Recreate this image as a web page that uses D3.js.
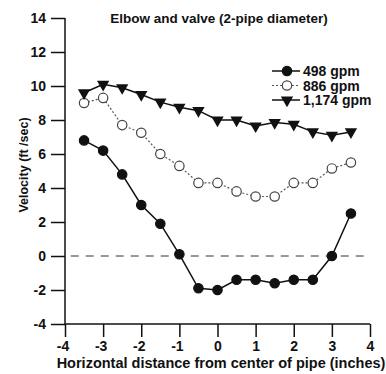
<!DOCTYPE html>
<html>
<head>
<meta charset="utf-8">
<script src="https://cdn.jsdelivr.net/npm/d3@7"></script>
<style>
  body { margin: 0; background: #fff; }
  svg text { font-family: "Liberation Sans", Arial, sans-serif; font-weight: bold; fill: #111; }
</style>
</head>
<body>
<div id="chart"></div>
<script>
// positions across the pipe (inches)
const xPositions = [-3.5, -3, -2.5, -2, -1.5, -1, -0.5, 0, 0.5, 1, 1.5, 2, 2.5, 3, 3.5];

// velocities (ft/sec) for each flow rate
const v498 = [6.8, 6.2, 4.8, 3.0, 1.9, 0.1, -1.9, -2.0, -1.4, -1.4, -1.6, -1.4, -1.4, 0.0, 2.5];
const v866 = [9.0, 9.3, 7.7, 7.25, 6.0, 5.3, 4.3, 4.3, 3.8, 3.5, 3.5, 4.3, 4.3, 5.15, 5.5];
const v1174 = [9.6, 10.1, 9.9, 9.5, 9.05, 8.75, 8.55, 8.0, 8.0, 7.65, 7.85, 7.75, 7.3, 7.1, 7.3];

const seriesNames = ["498 gpm", "886 gpm", "1,174 gpm"];
const xTicks = [-4, -3, -2, -1, 0, 1, 2, 3, 4];
const yTicks = [-4, -2, 0, 2, 4, 6, 8, 10, 12, 14];

const W = 386, H = 374;
const margin = {top: 18, right: 16, bottom: 50, left: 65};
const ink = "#111";

const svg = d3.select("#chart").append("svg")
    .attr("width", W)
    .attr("height", H);

const x = d3.scaleLinear().domain([-4, 4]).range([margin.left, W - margin.right]);
const y = d3.scaleLinear().domain([-4, 14]).range([H - margin.bottom, margin.top]);

// axes
const xAxis = d3.axisBottom(x).tickValues(xTicks).tickSize(13).tickPadding(4)
    .tickFormat(d => d);
const yAxis = d3.axisLeft(y).tickValues(yTicks).tickSize(14).tickPadding(5)
    .tickFormat(d => d);

const gx = svg.append("g")
    .attr("transform", `translate(0,${y(-4)})`)
    .call(xAxis);
const gy = svg.append("g")
    .attr("transform", `translate(${x(-4)},0)`)
    .call(yAxis);

[gx, gy].forEach(g => {
    g.select(".domain").attr("stroke", ink).attr("stroke-width", 1.5);
    g.selectAll(".tick line").attr("stroke", ink).attr("stroke-width", 1.5);
    g.selectAll(".tick text").style("font-size", "14px").attr("fill", ink);
});
// digits sit on the tick, the minus sign hangs to the left
gx.selectAll(".tick text").attr("dx", d => d < 0 ? -2.5 : 0);
gx.select(".domain").attr("d", `M${x(-4)},0H${x(4)}`);
gy.select(".domain").attr("d", `M0,${y(14)}V${y(-4)}`);

// zero reference line
svg.append("line")
    .attr("x1", x(-3.85)).attr("x2", x(3.85))
    .attr("y1", y(0)).attr("y2", y(0))
    .attr("stroke", "#333").attr("stroke-width", 1)
    .attr("stroke-dasharray", "8,7");

// titles
svg.append("text")
    .attr("x", 219).attr("y", 23)
    .attr("text-anchor", "middle")
    .style("font-size", "13.5px")
    .text("Elbow and valve (2-pipe diameter)");

svg.append("text")
    .attr("x", 221).attr("y", 368)
    .attr("text-anchor", "middle")
    .style("font-size", "14.5px")
    .text("Horizontal distance from center of pipe (inches)");

svg.append("text")
    .attr("transform", `translate(28,165) rotate(-90)`)
    .attr("text-anchor", "middle")
    .style("font-size", "12.5px")
    .text("Velocity (ft /sec)");

const line = d3.line()
    .x(d => x(d[0]))
    .y(d => y(d[1]));

const series = [
    {name: seriesNames[0], vals: v498, dash: null, marker: "filled", lineColor: ink},
    {name: seriesNames[1], vals: v866, dash: "2,2", marker: "open", lineColor: "#555"},
    {name: seriesNames[2], vals: v1174, dash: null, marker: "tri", lineColor: ink}
];

const tri = d3.symbol().type(d3.symbolTriangle).size(66);

function drawMarker(g, type, cx, cy) {
    if (type === "tri") {
        g.append("path")
            .attr("d", tri())
            .attr("transform", `translate(${cx},${cy}) rotate(180)`)
            .attr("fill", ink);
    } else {
        g.append("circle")
            .attr("cx", cx).attr("cy", cy).attr("r", 4.7)
            .attr("fill", type === "filled" ? ink : "#fff")
            .attr("stroke", type === "filled" ? ink : "#444")
            .attr("stroke-width", 1.2);
    }
}

series.forEach(s => {
    const pts = xPositions.map((xv, i) => [xv, s.vals[i]]);
    svg.append("path")
        .datum(pts)
        .attr("d", line)
        .attr("fill", "none")
        .attr("stroke", s.lineColor)
        .attr("stroke-width", s.dash ? 1.2 : 1.5)
        .attr("stroke-dasharray", s.dash);
    const g = svg.append("g");
    pts.forEach(p => drawMarker(g, s.marker, x(p[0]), y(p[1])));
});

// legend
const legend = svg.append("g");
series.forEach((s, i) => {
    const ly = 71 + i * 14.5;
    legend.append("line")
        .attr("x1", 272).attr("x2", 300)
        .attr("y1", ly).attr("y2", ly)
        .attr("stroke", s.lineColor)
        .attr("stroke-width", s.dash ? 1.2 : 1.5)
        .attr("stroke-dasharray", s.dash);
    drawMarker(legend, s.marker, 287, ly);
    legend.append("text")
        .attr("x", 303).attr("y", ly + 5)
        .style("font-size", "14px")
        .text(s.name);
});
</script>
</body>
</html>
